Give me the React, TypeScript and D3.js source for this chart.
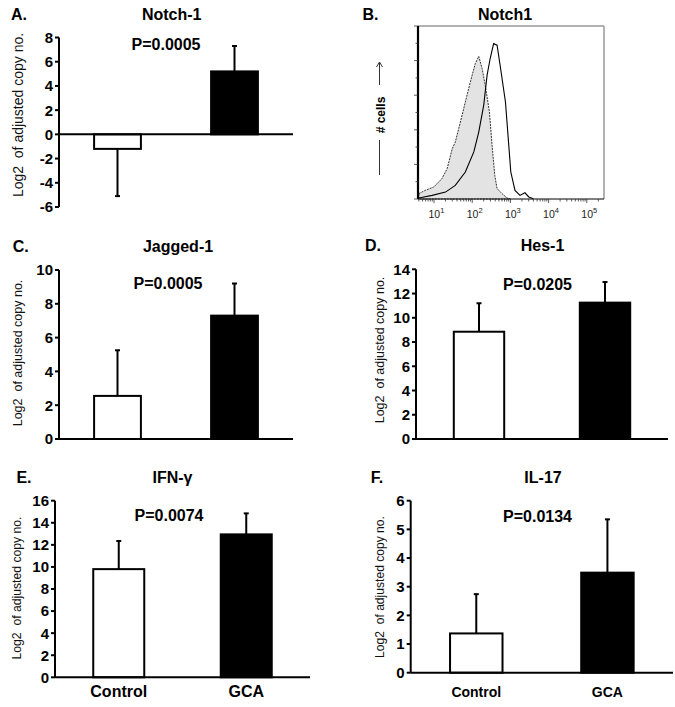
import React from "react";
import * as d3 from "d3";

// bar chart data (log2 of adjusted copy number, mean and SD)
const groups = ["Control", "GCA"];

const notchMeans = [-1.2, 5.2];
const notchErr = [3.9, 2.1];
const jaggedMeans = [2.55, 7.3];
const jaggedErr = [2.7, 1.9];
const hesMeans = [8.85, 11.25];
const hesErr = [2.35, 1.7];
const ifnMeans = [9.8, 12.95];
const ifnErr = [2.55, 1.9];
const il17Means = [1.37, 3.49];
const il17Err = [1.37, 1.86];

// flow histogram (fluorescence intensity vs % of max cells)
const isoIntensity = [4, 5.9, 9.8, 16, 22, 30, 36, 49, 66, 89, 120, 148, 182, 219, 282, 331, 389, 447, 603, 813, 1000];
const isoCount = [3.1, 5.0, 6.9, 11.7, 17.5, 29.1, 32.9, 44.5, 56.1, 67.6, 78.2, 82.5, 75.3, 65.7, 50.3, 31.0, 13.7, 6.0, 3.1, 0.6, 0];
const notchIntensity = [4, 8.9, 20, 36, 66, 110, 148, 200, 245, 295, 363, 447, 537, 741, 891, 1023, 1318, 1778, 2399, 3020, 3981];
const notchCount = [0.6, 2.1, 4.0, 7.9, 15.6, 27.2, 38.7, 54.3, 71.6, 81.2, 89.8, 88.9, 77.3, 56.1, 33.0, 15.6, 5.0, 2.1, 3.6, 1.2, 0.2];
const decadeLabels = [1, 2, 3, 4, 5];

const font = "'Liberation Sans', Arial, sans-serif";

const BarPanel = ({ p }) => {
  const x = d3.scaleBand().domain(groups).range([p.x0, p.x1]).paddingInner(0.6).paddingOuter(0.3);
  const y = d3.scaleLinear().domain(p.domain).range([p.yBot, p.yTop]);
  const ticks = d3.range(p.domain[0], p.domain[1] + p.step / 2, p.step);
  const y0 = y(0);
  return (
    <g fontFamily={font}>
      <text x={p.letterX} y={p.titleY} dy="0.35em" fontSize={16} fontWeight="bold" textAnchor="middle">{p.letter}</text>
      <text x={p.titleX} y={p.titleY} dy="0.35em" fontSize={16} fontWeight="bold" textAnchor="middle">{p.title}</text>
      <text x={p.pX} y={p.pY} dy="0.35em" fontSize={16} fontWeight="bold" textAnchor="middle">{p.pval}</text>
      <text transform={`translate(${p.labelX},${p.labelY}) rotate(-90)`} dy="0.35em" fontSize={p.labelSize} textAnchor="middle" fill="#111">
        {"Log2\u00a0 of adjusted copy no."}
      </text>
      {p.means.map((m, i) => {
        const top = Math.min(y(m), y0);
        const h = Math.abs(y(m) - y0);
        const cx = x(groups[i]) + x.bandwidth() / 2;
        const end = m >= 0 ? m + p.errs[i] : m - p.errs[i];
        return (
          <g key={i}>
            <line x1={cx} x2={cx} y1={y(m)} y2={y(end)} stroke="#000" strokeWidth={2} />
            <line x1={cx - 2.5} x2={cx + 2.5} y1={y(end)} y2={y(end)} stroke="#000" strokeWidth={2} />
            <rect x={x(groups[i])} y={top} width={x.bandwidth()} height={h}
              fill={i === 0 ? "#fff" : "#000"} stroke="#000" strokeWidth={2} />
          </g>
        );
      })}
      <line x1={p.x0} x2={p.x0} y1={p.yTop} y2={p.yBot} stroke="#000" strokeWidth={2} />
      <line x1={p.x0} x2={p.x1} y1={y0} y2={y0} stroke="#000" strokeWidth={2} />
      {ticks.map((t) => (
        <g key={t}>
          <line x1={p.x0 - 4} x2={p.x0} y1={y(t)} y2={y(t)} stroke="#000" strokeWidth={2} />
          <text x={p.x0 - 6} y={y(t)} dy="0.36em" fontSize={15} fontWeight="bold" textAnchor="end">{t}</text>
        </g>
      ))}
      {p.showGroups && groups.map((g) => (
        <text key={g} x={x(g) + x.bandwidth() / 2} y={p.groupY} fontSize={p.groupSize} fontWeight="bold" textAnchor="middle">{g}</text>
      ))}
    </g>
  );
};

const FlowPanel = () => {
  const left = 418, right = 604, top = 26, bottom = 199;
  const x = d3.scaleLog().domain([Math.pow(10, 0.58), Math.pow(10, 5.45)]).range([left, right]);
  const y = d3.scaleLinear().domain([0, 100]).range([bottom, top]);
  const area = d3.area().x((d) => x(d[0])).y0(bottom).y1((d) => y(d[1]));
  const line = d3.line().x((d) => x(d[0])).y((d) => y(d[1]));
  const iso = isoIntensity.map((v, i) => [v, isoCount[i]]);
  const notch = notchIntensity.map((v, i) => [v, notchCount[i]]);
  const minor = x.ticks().filter((t) => t >= x.domain()[0] && t <= x.domain()[1]);
  const yMinor = d3.range(0, 101, 10);
  return (
    <g fontFamily={font}>
      <text x={370.5} y={14} dy="0.35em" fontSize={16} fontWeight="bold" textAnchor="middle">B.</text>
      <text x={505} y={14} dy="0.35em" fontSize={16} fontWeight="bold" textAnchor="middle">Notch1</text>
      <path d={area(iso)} fill="#e3e3e3" stroke="#333" strokeWidth={1} strokeDasharray="2,1" />
      <path d={line(notch)} fill="none" stroke="#000" strokeWidth={1.1} />
      <line x1={left} x2={right} y1={top} y2={top} stroke="#999" strokeWidth={1.5} />
      <line x1={right} x2={right} y1={top} y2={bottom} stroke="#999" strokeWidth={1.5} />
      <line x1={left} x2={right} y1={bottom} y2={bottom} stroke="#000" strokeWidth={1} />
      <line x1={left} x2={left} y1={top} y2={bottom} stroke="#000" strokeWidth={2.2} />
      {yMinor.map((t) => (
        <line key={t} x1={left - (t % 20 === 0 ? 4 : 2.5)} x2={left} y1={y(t)} y2={y(t)} stroke="#333" strokeWidth={0.8} />
      ))}
      {minor.map((t, i) => {
        const major = Math.abs(Math.log10(t) - Math.round(Math.log10(t))) < 1e-6;
        return <line key={i} x1={x(t)} x2={x(t)} y1={bottom} y2={bottom + (major ? 4 : 2.5)} stroke="#333" strokeWidth={0.8} />;
      })}
      {decadeLabels.map((k) => (
        <text key={k} x={x(Math.pow(10, k)) - 5.5} y={218} fontSize={10.5} fill="#222">
          10<tspan dy={-5} fontSize={7.5}>{k}</tspan>
        </text>
      ))}
      <text transform="translate(381,115) rotate(-90)" dy="0.35em" fontSize={12} fontWeight="bold" textAnchor="middle"># cells</text>
      <line x1={379.5} x2={379.5} y1={63} y2={85} stroke="#333" strokeWidth={1} />
      <path d="M376.5,67 L379.5,62 L382.5,67" fill="none" stroke="#333" strokeWidth={1} />
      <line x1={379.5} x2={379.5} y1={140} y2={175} stroke="#333" strokeWidth={1} />
    </g>
  );
};

const panels = [
  { letter: "A.", title: "Notch-1", pval: "P=0.0005", means: notchMeans, errs: notchErr, domain: [-6, 8], step: 2,
    x0: 59, x1: 293, yTop: 37.5, yBot: 207, letterX: 19, titleX: 171.7, titleY: 14, pX: 166, pY: 44,
    labelX: 18, labelY: 115, labelSize: 14 },
  { letter: "C.", title: "Jagged-1", pval: "P=0.0005", means: jaggedMeans, errs: jaggedErr, domain: [0, 10], step: 2,
    x0: 59, x1: 293, yTop: 270, yBot: 439, letterX: 20.7, titleX: 178, titleY: 246.5, pX: 168, pY: 283,
    labelX: 18, labelY: 353, labelSize: 12.5 },
  { letter: "D.", title: "Hes-1", pval: "P=0.0205", means: hesMeans, errs: hesErr, domain: [0, 14], step: 2,
    x0: 416, x1: 668, yTop: 269.3, yBot: 439, letterX: 373, titleX: 542.5, titleY: 245.7, pX: 537.5, pY: 284,
    labelX: 380, labelY: 350, labelSize: 12.5 },
  { letter: "E.", title: "IFN-γ", pval: "P=0.0074", means: ifnMeans, errs: ifnErr, domain: [0, 16], step: 2,
    x0: 55, x1: 310, yTop: 500.7, yBot: 677.3, letterX: 24, titleX: 172.5, titleY: 477.3, pX: 169, pY: 515.7,
    labelX: 16.7, labelY: 588, labelSize: 12.2, showGroups: true, groupY: 697, groupSize: 16 },
  { letter: "F.", title: "IL-17", pval: "P=0.0134", means: il17Means, errs: il17Err, domain: [0, 6], step: 1,
    x0: 410.7, x1: 673, yTop: 500.7, yBot: 672.7, letterX: 377, titleX: 543, titleY: 477.3, pX: 537.5, pY: 516.7,
    labelX: 380, labelY: 587, labelSize: 12.1, showGroups: true, groupY: 697, groupSize: 14 },
];

export default function App() {
  return (
    <svg width={675} height={707} style={{ position: "absolute", left: 0, top: 0, background: "#fff" }}>
      {panels.map((p) => <BarPanel key={p.letter} p={p} />)}
      <FlowPanel />
    </svg>
  );
}
